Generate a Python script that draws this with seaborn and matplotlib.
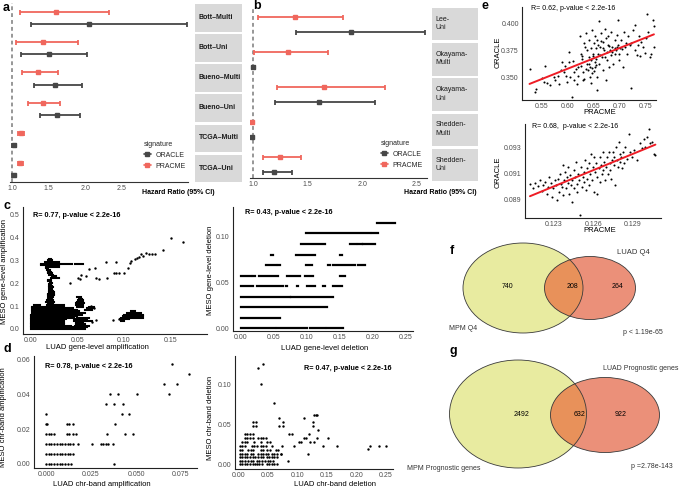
import numpy as np
import pandas as pd
import matplotlib
matplotlib.use("Agg")
import matplotlib.pyplot as plt
import seaborn as sns
from matplotlib.patches import Ellipse, Rectangle
from matplotlib.lines import Line2D

# ---------------- data: panel a ----------------
a_cohorts = ["Bott–Multi", "Bott–Uni", "Bueno–Multi", "Bueno–Uni", "TCGA–Multi", "TCGA–Uni"]
a_pracme_hr = [1.60, 1.42, 1.36, 1.42, 1.12, 1.115]
a_pracme_lo = [1.11, 1.06, 1.14, 1.22, 1.085, 1.08]
a_pracme_hi = [2.33, 1.90, 1.63, 1.65, 1.165, 1.155]
a_oracle_hr = [2.05, 1.50, 1.59, 1.62, 1.03, 1.03]
a_oracle_lo = [1.26, 1.12, 1.30, 1.38, 1.005, 1.005]
a_oracle_hi = [3.39, 2.02, 1.95, 1.93, 1.055, 1.045]

# ---------------- data: panel b ----------------
b_cohorts = ["Lee-\nUni", "Okayama-\nMulti", "Okayama-\nUni", "Shedden-\nMulti", "Shedden-\nUni"]
b_pracme_hr = [1.38, 1.32, 1.65, 0.985, 1.25]
b_pracme_lo = [1.04, 1.01, 1.22, 0.975, 1.09]
b_pracme_hi = [1.82, 1.69, 2.21, 0.995, 1.44]
b_oracle_hr = [1.90, 1.00, 1.60, 0.99, 1.19]
b_oracle_lo = [1.39, 0.99, 1.20, 0.982, 1.09]
b_oracle_hi = [2.58, 1.02, 2.12, 0.998, 1.36]

hr_ticks = [1.0, 1.5, 2.0, 2.5]
signatures = ["ORACLE", "PRACME"]

# ---------------- data: panel c (gene level) ----------------
# dense horizontal runs of points: (MESO value, LUAD from, LUAD to)
c_amp_runs = [
    (0.000, 0.000, 0.044), (0.000, 0.046, 0.058),
    (0.007, 0.000, 0.044), (0.007, 0.046, 0.060),
    (0.014, 0.000, 0.043), (0.014, 0.047, 0.062),
    (0.021, 0.000, 0.036), (0.021, 0.049, 0.058),
    (0.028, 0.000, 0.036), (0.028, 0.048, 0.056),
    (0.035, 0.000, 0.036), (0.035, 0.046, 0.066),
    (0.042, 0.000, 0.038), (0.042, 0.046, 0.060),
    (0.049, 0.000, 0.046), (0.049, 0.050, 0.062),
    (0.056, 0.000, 0.050), (0.063, 0.000, 0.055),
    (0.070, 0.001, 0.058), (0.077, 0.001, 0.052),
    (0.084, 0.001, 0.050), (0.084, 0.058, 0.066),
    (0.091, 0.001, 0.045), (0.091, 0.060, 0.068),
    (0.098, 0.001, 0.036), (0.098, 0.050, 0.056), (0.098, 0.063, 0.068),
    (0.105, 0.004, 0.010), (0.105, 0.017, 0.036), (0.105, 0.048, 0.056),
    (0.112, 0.018, 0.024), (0.112, 0.049, 0.057),
    (0.119, 0.016, 0.025), (0.119, 0.050, 0.056),
    (0.126, 0.017, 0.024), (0.126, 0.051, 0.056),
    (0.133, 0.018, 0.023), (0.133, 0.052, 0.055),
    (0.140, 0.018, 0.024), (0.140, 0.050, 0.054),
    (0.147, 0.019, 0.025), (0.154, 0.019, 0.025), (0.161, 0.020, 0.025),
    (0.168, 0.020, 0.024), (0.175, 0.020, 0.023), (0.182, 0.020, 0.024),
    (0.189, 0.020, 0.023), (0.196, 0.020, 0.022), (0.203, 0.021, 0.023),
    (0.210, 0.019, 0.022), (0.217, 0.019, 0.022), (0.224, 0.022, 0.030),
    (0.231, 0.023, 0.027), (0.238, 0.020, 0.024), (0.245, 0.019, 0.023),
    (0.252, 0.019, 0.022), (0.259, 0.017, 0.021), (0.266, 0.016, 0.019),
    (0.273, 0.016, 0.030), (0.280, 0.011, 0.030), (0.287, 0.011, 0.031),
    (0.287, 0.034, 0.044), (0.287, 0.047, 0.056),
    (0.294, 0.015, 0.030), (0.301, 0.018, 0.023), (0.308, 0.020, 0.022),
    (0.035, 0.097, 0.100), (0.042, 0.096, 0.105), (0.049, 0.097, 0.120),
    (0.056, 0.099, 0.120), (0.063, 0.100, 0.120), (0.070, 0.103, 0.118),
    (0.077, 0.108, 0.112),
]
c_amp_points = [
    (0.150, 0.400), (0.163, 0.380), (0.142, 0.345), (0.133, 0.330), (0.130, 0.330),
    (0.127, 0.330), (0.124, 0.335), (0.120, 0.320), (0.118, 0.330), (0.116, 0.315),
    (0.114, 0.310), (0.112, 0.305), (0.108, 0.300), (0.106, 0.290), (0.104, 0.269),
    (0.100, 0.245), (0.095, 0.245), (0.091, 0.245), (0.089, 0.245), (0.081, 0.295),
    (0.091, 0.295), (0.073, 0.220), (0.070, 0.222), (0.082, 0.225), (0.069, 0.269),
    (0.063, 0.262), (0.059, 0.232), (0.054, 0.237), (0.051, 0.225), (0.053, 0.220),
    (0.042, 0.200), (0.088, 0.039), (0.095, 0.045), (0.065, 0.100), (0.068, 0.090),
    (0.070, 0.040), (0.066, 0.030),
]
c_del_runs = [
    (0.1150, 0.206, 0.234),
    (0.1035, 0.099, 0.196), (0.1035, 0.199, 0.208),
    (0.0920, 0.0905, 0.1275), (0.0920, 0.165, 0.1745), (0.0920, 0.178, 0.183), (0.0920, 0.1856, 0.204),
    (0.0805, 0.045, 0.048), (0.0805, 0.083, 0.112), (0.0805, 0.151, 0.154),
    (0.0690, 0.0374, 0.0526), (0.0690, 0.0567, 0.0592), (0.0690, 0.0986, 0.1072),
    (0.0690, 0.1325, 0.135), (0.0690, 0.140, 0.173), (0.0690, 0.178, 0.188),
    (0.0575, 0.000, 0.0147), (0.0575, 0.0187, 0.0212), (0.0575, 0.0278, 0.0567),
    (0.0575, 0.0693, 0.0895), (0.0575, 0.0971, 0.1098), (0.0575, 0.150, 0.158),
    (0.0460, 0.000, 0.0177), (0.0460, 0.0238, 0.0642), (0.0460, 0.068, 0.070),
    (0.0460, 0.0845, 0.087), (0.0460, 0.1007, 0.1123), (0.0460, 0.125, 0.1275),
    (0.0460, 0.140, 0.1528),
    (0.0345, 0.000, 0.0744), (0.0345, 0.0759, 0.140),
    (0.0230, 0.000, 0.130),
    (0.0115, 0.000, 0.0592),
    (0.0000, 0.000, 0.0516), (0.0000, 0.0541, 0.0996), (0.0000, 0.1047, 0.1275),
    (0.0000, 0.130, 0.1553),
]

# ---------------- data: panel d (chr-band level) ----------------
d_amp_points = [
    (0.0000, 0.0), (0.0015, 0.0), (0.0030, 0.0), (0.0045, 0.0), (0.0060, 0.0), (0.0075, 0.0),
    (0.0090, 0.0), (0.0105, 0.0), (0.0120, 0.0), (0.0137, 0.0), (0.0380, 0.0),
    (0.0000, 0.0057), (0.0015, 0.0057), (0.0030, 0.0057), (0.0045, 0.0057), (0.0060, 0.0057),
    (0.0075, 0.0057), (0.0090, 0.0057), (0.0105, 0.0057), (0.0120, 0.0057), (0.0135, 0.0057),
    (0.0147, 0.0057),
    (0.0000, 0.0114), (0.0015, 0.0114), (0.0030, 0.0114), (0.0045, 0.0114), (0.0060, 0.0114),
    (0.0075, 0.0114), (0.0090, 0.0114), (0.0105, 0.0114), (0.0120, 0.0114), (0.0135, 0.0114),
    (0.0147, 0.0114), (0.0176, 0.0114), (0.0257, 0.0114), (0.0306, 0.0114), (0.0319, 0.0114),
    (0.0333, 0.0114), (0.0346, 0.0114), (0.0374, 0.0114),
    (0.0000, 0.0171), (0.0015, 0.0171), (0.0030, 0.0171), (0.0045, 0.0171), (0.0115, 0.0171),
    (0.0130, 0.0171), (0.0148, 0.0171), (0.0165, 0.0171), (0.0340, 0.0171), (0.0439, 0.0171),
    (0.0485, 0.0171),
    (0.0000, 0.0229), (0.0008, 0.0229), (0.0115, 0.0229), (0.0128, 0.0229), (0.0152, 0.0229),
    (0.0383, 0.0229),
    (0.0000, 0.0286), (0.0420, 0.0286), (0.0463, 0.0286),
    (0.0333, 0.0343), (0.0380, 0.0343), (0.0430, 0.0343),
    (0.0356, 0.0400), (0.0402, 0.0400), (0.0504, 0.0400), (0.0685, 0.0400),
    (0.0657, 0.0457), (0.0726, 0.0457), (0.0796, 0.0514), (0.0700, 0.0571),
]
d_del_points = [
    (0.0111, 0.0379), (0.0150, 0.0379), (0.0196, 0.0379), (0.0241, 0.0379),
    (0.0111, 0.0333), (0.0150, 0.0333), (0.0196, 0.0333), (0.0241, 0.0333), (0.0338, 0.0333),
    (0.0378, 0.0333), (0.0423, 0.0333), (0.0468, 0.0333),
    (0.0065, 0.0283), (0.0111, 0.0283), (0.0150, 0.0283), (0.0264, 0.0283), (0.0378, 0.0283),
    (0.0491, 0.0283), (0.0537, 0.0283),
    (0.0026, 0.0229), (0.0065, 0.0229), (0.0111, 0.0229), (0.0224, 0.0229), (0.0264, 0.0229),
    (0.0309, 0.0229), (0.0378, 0.0229), (0.0423, 0.0229), (0.0468, 0.0229), (0.0565, 0.0229),
    (0.0026, 0.0179), (0.0065, 0.0179), (0.0168, 0.0179), (0.0207, 0.0179), (0.0253, 0.0179),
    (0.0378, 0.0179), (0.0423, 0.0179), (0.0491, 0.0179), (0.0537, 0.0179), (0.0633, 0.0179),
    (0.0679, 0.0179),
    (0.0026, 0.0133), (0.0065, 0.0133), (0.0111, 0.0133), (0.0150, 0.0133), (0.0207, 0.0133),
    (0.0253, 0.0133), (0.0338, 0.0133), (0.0378, 0.0133), (0.0423, 0.0133), (0.0468, 0.0133),
    (0.0508, 0.0133), (0.0565, 0.0133), (0.0605, 0.0133), (0.0650, 0.0133), (0.0718, 0.0133),
    (0.0026, 0.0088), (0.0065, 0.0088), (0.0111, 0.0088), (0.0150, 0.0088), (0.0196, 0.0088),
    (0.0241, 0.0088), (0.0281, 0.0088), (0.0338, 0.0088), (0.0378, 0.0088), (0.0423, 0.0088),
    (0.0480, 0.0088), (0.0525, 0.0088), (0.0565, 0.0088), (0.0605, 0.0088), (0.0650, 0.0088),
    (0.0026, 0.0042), (0.0065, 0.0042), (0.0111, 0.0042), (0.0168, 0.0042), (0.0207, 0.0042),
    (0.0253, 0.0042), (0.0309, 0.0042), (0.0355, 0.0042), (0.0406, 0.0042), (0.0451, 0.0042),
    (0.0497, 0.0042), (0.0537, 0.0042), (0.0582, 0.0042), (0.0838, 0.0042),
    (0.0026, 0.0), (0.0065, 0.0), (0.0111, 0.0), (0.0150, 0.0), (0.0196, 0.0), (0.0241, 0.0),
    (0.0281, 0.0), (0.0309, 0.0), (0.0355, 0.0), (0.0406, 0.0), (0.0480, 0.0), (0.0525, 0.0),
    (0.0565, 0.0), (0.0605, 0.0), (0.0650, 0.0),
    (0.0338, 0.1210), (0.0412, 0.1254), (0.0383, 0.1010), (0.0610, 0.0770),
    (0.0690, 0.0575), (0.0690, 0.0483), (0.0764, 0.0483), (0.0764, 0.0533),
    (0.1105, 0.0575), (0.1258, 0.0533), (0.1258, 0.0483), (0.1280, 0.0617), (0.1310, 0.0617),
    (0.1340, 0.0617), (0.1350, 0.0429), (0.1190, 0.0379), (0.1105, 0.0333), (0.1144, 0.0333),
    (0.0911, 0.0379), (0.0850, 0.0379), (0.1020, 0.0283), (0.0946, 0.0229), (0.1065, 0.0283),
    (0.1218, 0.0283), (0.1275, 0.0283), (0.1340, 0.0333), (0.1445, 0.0229), (0.1520, 0.0333),
    (0.1672, 0.0229), (0.1178, 0.0133), (0.0718, 0.0133), (0.0735, 0.0229),
    (0.2200, 0.0196), (0.2240, 0.0229), (0.2382, 0.0229), (0.2513, 0.0229),
    (0.0241, 0.0533), (0.0298, 0.0533), (0.0241, 0.0483), (0.0298, 0.0483),
]

# ---------------- data: panel e ----------------
e_top_points = [
    (0.526, 0.358), (0.539, 0.340), (0.537, 0.337), (0.550, 0.350), (0.556, 0.361), (0.553, 0.346),
    (0.566, 0.343), (0.573, 0.351), (0.576, 0.348), (0.582, 0.344), (0.586, 0.357), (0.589, 0.364),
    (0.592, 0.355), (0.595, 0.361), (0.599, 0.346), (0.602, 0.364), (0.603, 0.374), (0.605, 0.351),
    (0.608, 0.332), (0.612, 0.355), (0.615, 0.358), (0.618, 0.344), (0.620, 0.352), (0.623, 0.388),
    (0.625, 0.372), (0.626, 0.361), (0.628, 0.367), (0.630, 0.355), (0.631, 0.382), (0.632, 0.349),
    (0.634, 0.391), (0.636, 0.375), (0.636, 0.363), (0.638, 0.357), (0.640, 0.369), (0.641, 0.385),
    (0.642, 0.351), (0.643, 0.360), (0.644, 0.377), (0.645, 0.366), (0.647, 0.354), (0.647, 0.394),
    (0.649, 0.372), (0.651, 0.382), (0.652, 0.360), (0.653, 0.388), (0.654, 0.367), (0.655, 0.377),
    (0.656, 0.351), (0.657, 0.339), (0.657, 0.385), (0.658, 0.372), (0.660, 0.402), (0.660, 0.363),
    (0.662, 0.378), (0.664, 0.391), (0.665, 0.369), (0.667, 0.383), (0.668, 0.357), (0.670, 0.375),
    (0.671, 0.395), (0.673, 0.348), (0.675, 0.366), (0.677, 0.380), (0.678, 0.388), (0.680, 0.360),
    (0.682, 0.375), (0.683, 0.392), (0.684, 0.371), (0.686, 0.378), (0.688, 0.363), (0.690, 0.377),
    (0.691, 0.385), (0.693, 0.375), (0.695, 0.389), (0.696, 0.380), (0.697, 0.403), (0.699, 0.366),
    (0.701, 0.377), (0.703, 0.385), (0.706, 0.360), (0.709, 0.392), (0.710, 0.378), (0.714, 0.372),
    (0.716, 0.388), (0.721, 0.341), (0.722, 0.382), (0.725, 0.394), (0.729, 0.398), (0.730, 0.375),
    (0.734, 0.371), (0.737, 0.388), (0.742, 0.383), (0.745, 0.378), (0.748, 0.373), (0.753, 0.408),
    (0.755, 0.392), (0.764, 0.403), (0.766, 0.397), (0.766, 0.378), (0.758, 0.369),
    (0.648, 0.370), (0.652, 0.364), (0.658, 0.380), (0.662, 0.371), (0.668, 0.377), (0.672, 0.369),
    (0.676, 0.374), (0.680, 0.379), (0.685, 0.374), (0.690, 0.372), (0.695, 0.378), (0.646, 0.359),
    (0.650, 0.356), (0.655, 0.362), (0.640, 0.363), (0.635, 0.358), (0.630, 0.348), (0.645, 0.345),
    (0.664, 0.384), (0.674, 0.386), (0.698, 0.372), (0.705, 0.376), (0.712, 0.382), (0.720, 0.380),
    (0.735, 0.380), (0.740, 0.370), (0.760, 0.372), (0.750, 0.386), (0.560, 0.345), (0.580, 0.352),
    (0.597, 0.352), (0.612, 0.348), (0.620, 0.360), (0.627, 0.370), (0.633, 0.378), (0.610, 0.365),
]
e_bottom_points = [
    (0.12115, 0.09017), (0.12154, 0.09028), (0.12136, 0.08984), (0.12179, 0.09002), (0.12192, 0.09048),
    (0.12205, 0.08966), (0.12218, 0.09010), (0.12231, 0.09035), (0.12244, 0.08945), (0.12256, 0.08997),
    (0.12264, 0.09074), (0.12277, 0.09028), (0.12282, 0.08919), (0.12295, 0.08984), (0.12308, 0.09048),
    (0.12315, 0.09010), (0.12321, 0.08893), (0.12333, 0.09061), (0.12341, 0.08958), (0.12346, 0.09100),
    (0.12351, 0.09022), (0.12359, 0.08997), (0.12367, 0.08932), (0.12372, 0.09165), (0.12377, 0.09048),
    (0.12385, 0.09113), (0.12392, 0.08984), (0.12397, 0.09074), (0.12403, 0.09028), (0.12410, 0.09152),
    (0.12415, 0.08945), (0.12423, 0.09087), (0.12428, 0.09010), (0.12436, 0.08880), (0.12441, 0.09048),
    (0.12449, 0.09126), (0.12454, 0.08984), (0.12462, 0.09074), (0.12467, 0.09190), (0.12474, 0.09022),
    (0.12479, 0.08958), (0.12487, 0.09100), (0.12492, 0.09048), (0.12500, 0.08777), (0.12505, 0.09152),
    (0.12513, 0.08997), (0.12518, 0.09074), (0.12526, 0.09113), (0.12531, 0.09035), (0.12538, 0.09203),
    (0.12544, 0.08971), (0.12551, 0.09139), (0.12556, 0.09061), (0.12564, 0.09010), (0.12569, 0.09178),
    (0.12577, 0.09100), (0.12582, 0.09255), (0.12590, 0.09048), (0.12595, 0.09152), (0.12603, 0.08958),
    (0.12608, 0.09229), (0.12615, 0.09113), (0.12623, 0.09178), (0.12628, 0.09074), (0.12633, 0.08945),
    (0.12641, 0.09139), (0.12649, 0.09229), (0.12654, 0.09035), (0.12659, 0.09165), (0.12667, 0.09100),
    (0.12672, 0.09268), (0.12679, 0.09126), (0.12685, 0.09190), (0.12692, 0.09048), (0.12700, 0.09152),
    (0.12705, 0.09229), (0.12710, 0.09100), (0.12718, 0.09268), (0.12726, 0.09178), (0.12731, 0.09126),
    (0.12736, 0.09061), (0.12744, 0.09203), (0.12751, 0.09268), (0.12756, 0.09165), (0.12762, 0.09229),
    (0.12769, 0.09010), (0.12777, 0.09307), (0.12782, 0.09203), (0.12790, 0.09152), (0.12795, 0.09345),
    (0.12803, 0.09255), (0.12808, 0.09190), (0.12815, 0.09229), (0.12821, 0.09139), (0.12828, 0.09268),
    (0.12833, 0.09178), (0.12846, 0.09307), (0.12859, 0.09216), (0.12872, 0.09410), (0.12885, 0.09268),
    (0.12897, 0.09229), (0.12910, 0.09281), (0.12936, 0.09203), (0.12962, 0.09333), (0.12974, 0.09294),
    (0.12987, 0.09371), (0.13000, 0.09307), (0.13013, 0.09384), (0.13026, 0.09449), (0.13033, 0.09333),
    (0.13051, 0.09345), (0.13064, 0.09255), (0.13077, 0.09242),
]

# ---------------- data: panels f, g ----------------
f_sets = ["MPM Q4", "LUAD Q4"]
f_counts = [740, 208, 264]
f_pvalue = "p < 1.19e-65"
g_sets = ["MPM Prognostic genes", "LUAD Prognostic genes"]
g_counts = [2492, 632, 922]
g_pvalue = "p =2.78e-143"

# ---------------- style ----------------
sns.set_theme(style="white")
plt.rcParams['font.family'] = ['Liberation Sans', 'DejaVu Sans']

RED = "#f0675d"
GREY = "#474747"
TICKC = "#4d4d4d"
W, H = 683, 488
fig = plt.figure(figsize=(W / 100, H / 100), dpi=100)
fig.patch.set_facecolor("white")


def box(l, t, r, b):
    return fig.add_axes([l / W, 1 - b / H, (r - l) / W, (b - t) / H])


def ftext(x, y, s, size=5.5, weight="normal", ha="left", va="center", color="black", rotation=0):
    fig.text(x / W, 1 - y / H, s, fontsize=size, fontweight=weight, ha=ha, va=va,
             color=color, rotation=rotation)


def forest(ax, cohorts, p_hr, p_lo, p_hi, o_hr, o_lo, o_hi, xlim, off, ymax):
    n = len(cohorts)
    df = pd.DataFrame({
        "cohort": list(cohorts) * 2,
        "signature": ["PRACME"] * n + ["ORACLE"] * n,
        "hr": list(p_hr) + list(o_hr),
        "lo": list(p_lo) + list(o_lo),
        "hi": list(p_hi) + list(o_hi),
    })
    df["pos"] = [i + 0.5 - off for i in range(n)] + [i + 0.5 + off for i in range(n)]
    ax.axvline(1.0, color="#7a7a7a", lw=1.1, ls=(0, (2.5, 2)), zorder=0)
    for sig, col in [("PRACME", RED), ("ORACLE", GREY)]:
        d = df[df.signature == sig]
        ax.errorbar(d.hr, d.pos, xerr=[d.hr - d.lo, d.hi - d.hr], fmt="s", ms=2.2,
                    color=col, ecolor=col, elinewidth=1.3, capsize=1.8, capthick=1.3)
    ax.set_xlim(*xlim)
    ax.set_ylim(ymax, 0)
    ax.set_yticks([])
    ax.set_xticks(hr_ticks)
    ax.set_xticklabels([f"{t:.1f}" for t in hr_ticks])
    for s in ["left", "right", "top"]:
        ax.spines[s].set_visible(False)
    ax.spines["bottom"].set_color("#333333")
    ax.spines["bottom"].set_linewidth(0.8)
    ax.tick_params(axis="x", length=1.5, width=0.6, color="#333333", labelsize=5,
                   labelcolor=TICKC, pad=0.8)
    ax.set_facecolor("none")


def strips(ax, labels, text_x, weight):
    n = len(labels)
    ax.set_xlim(0, 1)
    ax.set_ylim(n, 0)
    ax.axis("off")
    for i, lab in enumerate(labels):
        ax.add_patch(Rectangle((0, i + 0.03), 1, 0.92, fc="#d9d9d9", ec="none"))
        ax.text(text_x, i + 0.47, lab, fontsize=5, fontweight=weight, ha="left", va="center",
                color="#1a1a1a", linespacing=1.3)


def legend_at(x, y):
    handles = [Line2D([0], [0], color=GREY, lw=1.2, marker="s", ms=2.5),
               Line2D([0], [0], color=RED, lw=1.2, marker="s", ms=2.5)]
    fig.legend(handles, signatures, title="signature", loc="upper left",
               bbox_to_anchor=(x / W, 1 - y / H), frameon=False, fontsize=5, title_fontsize=5,
               handlelength=1.0, handletextpad=0.7, labelspacing=0.55, borderaxespad=0,
               borderpad=0, alignment="left")


def style_scatter(ax, xlim, ylim, xticks, xlabels, yticks, ylabels):
    ax.set_xlim(*xlim)
    ax.set_ylim(*ylim)
    ax.set_xticks(xticks)
    ax.set_xticklabels(xlabels)
    ax.set_yticks(yticks)
    ax.set_yticklabels(ylabels)
    ax.set_xlabel("")
    ax.set_ylabel("")
    for s in ["right", "top"]:
        ax.spines[s].set_visible(False)
    for s in ["left", "bottom"]:
        ax.spines[s].set_color("#222222")
        ax.spines[s].set_linewidth(0.8)
    ax.tick_params(length=1.5, width=0.6, color="#333333", labelsize=5, labelcolor=TICKC, pad=0.8)
    ax.set_facecolor("none")


# ---------------- panel a ----------------
ax_a = box(10, 3, 188, 182)
forest(ax_a, a_cohorts, a_pracme_hr, a_pracme_lo, a_pracme_hi,
       a_oracle_hr, a_oracle_lo, a_oracle_hi, (0.973, 3.401), 0.2, 179 / 30.2)
strips(box(195, 3, 242, 184), a_cohorts, 0.085, "bold")
legend_at(144, 141)
ftext(142, 192, "Hazard Ratio (95% CI)", size=5, weight="bold")

# ---------------- panel b ----------------
ax_b = box(250, 7, 427, 178)
forest(ax_b, b_cohorts, b_pracme_hr, b_pracme_lo, b_pracme_hi,
       b_oracle_hr, b_oracle_lo, b_oracle_hi, (0.97, 2.595), 0.21, 171 / 35.0)
strips(box(432, 7, 478, 183), b_cohorts, 0.08, "normal")
legend_at(381, 140)
ftext(404, 192, "Hazard Ratio (95% CI)", size=5, weight="bold")

# ---------------- panel c ----------------
ax_c1 = box(23, 207, 207, 334)
ax_c1.hlines([r[0] for r in c_amp_runs], [r[1] for r in c_amp_runs], [r[2] for r in c_amp_runs],
             colors="black", lw=1.5, capstyle="projecting")
sns.scatterplot(x=[p[0] for p in c_amp_points], y=[p[1] for p in c_amp_points], ax=ax_c1,
                s=3, color="black", linewidth=0)
style_scatter(ax_c1, (-0.0083, 0.189), (-0.022, 0.535),
              [0, 0.05, 0.10, 0.15], ["0.00", "0.05", "0.10", "0.15"],
              [0, 0.1, 0.2, 0.3, 0.4, 0.5], ["0.0", "0.1", "0.2", "0.3", "0.4", "0.5"])
ftext(33, 215, "R= 0.77, p-value < 2.2e-16", size=5.2, weight="bold")
ftext(97, 347.5, "LUAD gene-level amplification", size=5.5, ha="center")
ftext(5, 272, "MESO gene-level amplification", size=5.5, ha="center", rotation=90)

ax_c2 = box(233, 207, 413, 331)
ax_c2.hlines([r[0] for r in c_del_runs], [r[1] for r in c_del_runs], [r[2] for r in c_del_runs],
             colors="black", lw=1.6, capstyle="projecting")
style_scatter(ax_c2, (-0.0121, 0.261), (-0.003, 0.1324),
              [0, 0.05, 0.10, 0.15, 0.20, 0.25], ["0.00", "0.05", "0.10", "0.15", "0.20", "0.25"],
              [0, 0.05, 0.10], ["0.00", "0.05", "0.10"])
ftext(245, 213, "R= 0.43, p-value < 2.2e-16", size=5.2, weight="bold")
ftext(325, 348, "LUAD gene-level deletion", size=5.5, ha="center")
ftext(211, 270, "MESO gene-level deletion", size=5.5, ha="center", rotation=90)

# ---------------- panel d ----------------
ax_d1 = box(34, 356, 197, 468)
sns.scatterplot(x=[p[0] for p in d_amp_points], y=[p[1] for p in d_amp_points], ax=ax_d1,
                s=3, color="black", linewidth=0)
style_scatter(ax_d1, (-0.0067, 0.0839), (-0.0023, 0.0619),
              [0, 0.025, 0.05, 0.075], ["0.000", "0.025", "0.050", "0.075"],
              [0, 0.02, 0.04, 0.06], ["0.00", "0.02", "0.04", "0.06"])
ftext(45, 367, "R= 0.78, p-value < 2.2e-16", size=5.2, weight="bold")
ftext(102, 484, "LUAD chr-band amplification", size=5.5, ha="center")
ftext(4, 417, "MESO chr-band amplification", size=5.5, ha="center", rotation=90)

ax_d2 = box(235, 356, 393, 469)
sns.scatterplot(x=[p[0] for p in d_del_points], y=[p[1] for p in d_del_points], ax=ax_d2,
                s=3, color="black", linewidth=0)
style_scatter(ax_d2, (-0.006, 0.2627), (-0.0059, 0.1354),
              [0, 0.05, 0.10, 0.15, 0.20, 0.25], ["0.00", "0.05", "0.10", "0.15", "0.20", "0.25"],
              [0, 0.05, 0.10], ["0.00", "0.05", "0.10"])
ftext(392, 369, "R= 0.47, p-value < 2.2e-16", size=5.2, weight="bold", ha="right")
ftext(335, 484, "LUAD chr-band deletion", size=5.5, ha="center")
ftext(210, 418, "MESO chr-band deletion", size=5.5, ha="center", rotation=90)

# ---------------- panel e ----------------
ax_e1 = box(522, 7, 656, 100)
ex1 = [p[0] for p in e_top_points]
ey1 = [p[1] for p in e_top_points]
sns.scatterplot(x=ex1, y=ey1, ax=ax_e1, s=2.2, color="black", linewidth=0)
sns.regplot(x=ex1, y=ey1, ax=ax_e1, scatter=False, ci=None, color="#ee1c25",
            line_kws={"lw": 1.4})
style_scatter(ax_e1, (0.5115, 0.77), (0.3296, 0.4148),
              [0.55, 0.60, 0.65, 0.70, 0.75], ["0.55", "0.60", "0.65", "0.70", "0.75"],
              [0.350, 0.375, 0.400], ["0.350", "0.375", "0.400"])
ftext(531, 8, "R= 0.62, p-value < 2.2e-16", size=5)
ftext(600, 113, "PRACME", size=5.5, ha="center")
ftext(498, 52, "ORACLE", size=5.5, ha="center", rotation=90)

ax_e2 = box(525, 124, 661, 218)
ex2 = [p[0] for p in e_bottom_points]
ey2 = [p[1] for p in e_bottom_points]
sns.scatterplot(x=ex2, y=ey2, ax=ax_e2, s=2.2, color="black", linewidth=0)
sns.regplot(x=ex2, y=ey2, ax=ax_e2, scatter=False, ci=None, color="#ee1c25",
            line_kws={"lw": 1.4})
style_scatter(ax_e2, (0.12077, 0.1312), (0.08755, 0.09484),
              [0.123, 0.126, 0.129], ["0.123", "0.126", "0.129"],
              [0.089, 0.091, 0.093], ["0.089", "0.091", "0.093"])
ftext(532, 127, "R= 0.68,  p-value < 2.2e-16", size=5)
ftext(600, 230.5, "PRACME", size=5.5, ha="center")
ftext(498, 172, "ORACLE", size=5.5, ha="center", rotation=90)

# ---------------- panels f, g (Venn) ----------------
YEL = "#e8eba0"
SAL = "#eb9079"
ORA = "#e8915a"
EDGE = "#3a3a3a"
vax = box(440, 235, 683, 488)
vax.set_xlim(440, 683)
vax.set_ylim(488, 235)
vax.axis("off")


def venn(ax, c1, w1, h1, c2, w2, h2):
    e1 = Ellipse(c1, w1, h1, fc=YEL, ec="none")
    e2 = Ellipse(c2, w2, h2, fc=SAL, ec="none")
    ax.add_patch(e1)
    ax.add_patch(e2)
    ov = Ellipse(c2, w2, h2, fc=ORA, ec="none")
    ax.add_patch(ov)
    ov.set_clip_path(e1)
    for c, w, h in [(c1, w1, h1), (c2, w2, h2)]:
        ax.add_patch(Ellipse(c, w, h, fill=False, ec=EDGE, lw=0.6))


venn(vax, (523, 288), 120, 90, (590, 288), 91, 63)
ftext(507, 287, str(f_counts[0]), size=5, ha="center")
ftext(572, 287, str(f_counts[1]), size=5, ha="center")
ftext(617, 287, str(f_counts[2]), size=5, ha="center")
ftext(633, 252, f_sets[1], size=5.5, ha="center", color="#333333")
ftext(449, 328, f_sets[0], size=5, color="#333333")
ftext(643, 332, f_pvalue, size=5, ha="center", color="#333333")

venn(vax, (518, 414), 137, 108, (605, 415), 109, 75)
ftext(522, 414, str(g_counts[0]), size=5, ha="center")
ftext(580, 414, str(g_counts[1]), size=5, ha="center")
ftext(621, 414, str(g_counts[2]), size=5, ha="center")
ftext(603, 368, g_sets[1], size=5, color="#333333")
ftext(407, 468, g_sets[0], size=5, color="#333333")
ftext(652, 466, g_pvalue, size=5, ha="center", color="#333333")

# ---------------- panel letters ----------------
for letter, x, y in [("a", 3, 8), ("b", 253, 6), ("e", 482, 6), ("c", 4, 206),
                     ("d", 4, 349), ("f", 450, 251), ("g", 449, 351)]:
    ftext(x, y, letter, size=9, weight="bold")

fig.savefig("out.png", dpi=100)
